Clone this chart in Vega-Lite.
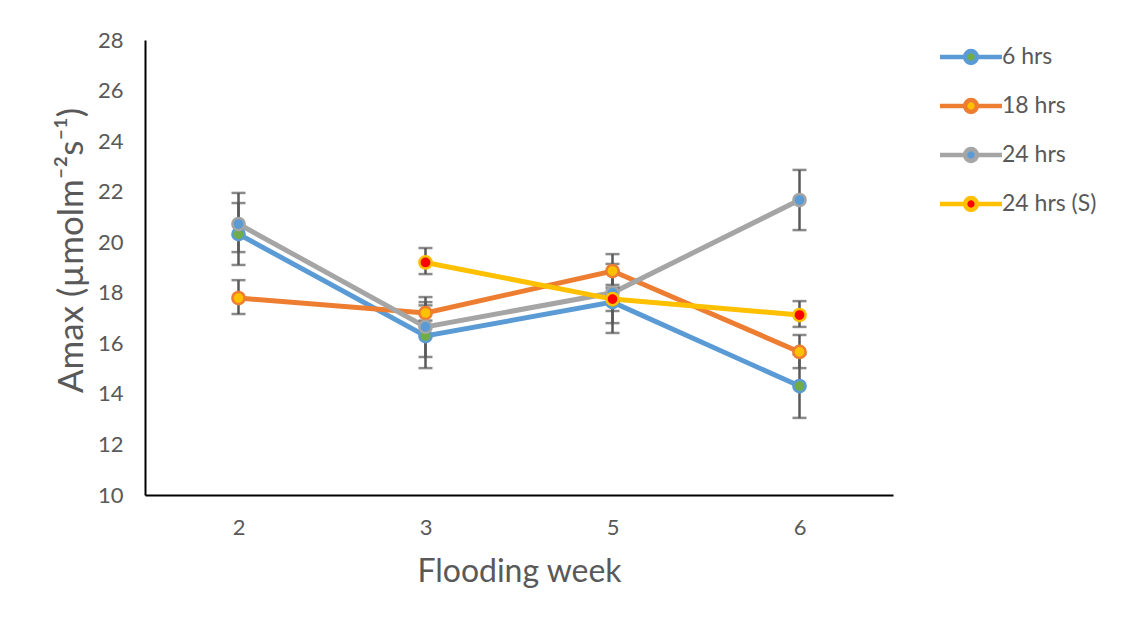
{
  "$schema": "https://vega.github.io/schema/vega-lite/v6.json",
  "autosize": "none",
  "width": 748,
  "height": 455,
  "padding": {"left": 145, "top": 40, "right": 240, "bottom": 135},
  "background": "white",
  "config": {
    "view": {"stroke": null},
    "font": "Lato",
    "axis": {"grid": false, "ticks": false, "domainColor": "#000000", "domainWidth": 2, "labelColor": "#595959", "titleColor": "#595959", "labelFont": "Lato", "titleFont": "Lato", "titleFontWeight": "normal", "labelFontSize": 22},
    "legend": {"labelFontSize": 23, "labelColor": "#595959", "labelFont": "Lato"}
  },
  "data": {
    "values": [
      {"week": "2", "series": "6 hrs", "y": 20.32, "lo": 19.10, "hi": 21.55},
      {"week": "3", "series": "6 hrs", "y": 16.29, "lo": 15.02, "hi": 17.63},
      {"week": "5", "series": "6 hrs", "y": 17.63, "lo": 16.41, "hi": 18.85},
      {"week": "6", "series": "6 hrs", "y": 14.31, "lo": 13.05, "hi": 15.57},
      {"week": "2", "series": "18 hrs", "y": 17.79, "lo": 17.16, "hi": 18.50},
      {"week": "3", "series": "18 hrs", "y": 17.20, "lo": 16.90, "hi": 17.50},
      {"week": "5", "series": "18 hrs", "y": 18.86, "lo": 18.20, "hi": 19.53},
      {"week": "6", "series": "18 hrs", "y": 15.66, "lo": 15.02, "hi": 16.33},
      {"week": "2", "series": "24 hrs", "y": 20.72, "lo": 19.61, "hi": 21.95},
      {"week": "3", "series": "24 hrs", "y": 16.65, "lo": 15.46, "hi": 17.83},
      {"week": "5", "series": "24 hrs", "y": 18.00, "lo": 16.80, "hi": 19.14},
      {"week": "6", "series": "24 hrs", "y": 21.67, "lo": 20.48, "hi": 22.86},
      {"week": "3", "series": "24 hrs (S)", "y": 19.20, "lo": 18.74, "hi": 19.77},
      {"week": "5", "series": "24 hrs (S)", "y": 17.75, "lo": 17.28, "hi": 18.31},
      {"week": "6", "series": "24 hrs (S)", "y": 17.12, "lo": 16.65, "hi": 17.67}
    ]
  },
  "encoding": {
    "x": {
      "field": "week", "type": "ordinal", "sort": ["2", "3", "5", "6"],
      "scale": {"type": "point", "padding": 0.5},
      "axis": {"title": "Flooding week", "labelAngle": 0, "labelFontSize": 22, "labelPadding": 22, "titleFontSize": 32, "titlePadding": 18}
    }
  },
  "layer": [
    {
      "mark": {"type": "line", "strokeWidth": 5},
      "encoding": {
        "y": {"field": "y", "type": "quantitative", "scale": {"domain": [10, 28], "nice": false, "zero": false},
          "axis": {"title": "Amax (µmolm⁻²s⁻¹)", "values": [10, 12, 14, 16, 18, 20, 22, 24, 26, 28], "labelFontSize": 22, "labelPadding": 22, "titleFontSize": 35, "titlePadding": 8, "titleY": 210}},
        "stroke": {"field": "series", "type": "nominal",
          "scale": {"domain": ["6 hrs", "18 hrs", "24 hrs", "24 hrs (S)"], "range": ["#5B9BD5", "#ED7D31", "#A5A5A5", "#FFC000"]},
          "legend": {
          "title": null, "orient": "none", "legendX": 799, "legendY": -10, "padding": 0,
          "symbolType": "M-1.265,0H-0.24M0.24,0H1.265M0.24,0A0.24,0.24 0 1 1 -0.24,0A0.24,0.24 0 1 1 0.24,0Z",
          "symbolSize": 2400, "symbolStrokeWidth": 4.5, "labelFontSize": 23, "labelOffset": 4, "rowPadding": 7, "symbolOpacity": 1
        }}
      }
    },
    {
      "mark": {"type": "rule", "color": "#595959", "strokeWidth": 2.5},
      "encoding": {
        "y": {"field": "lo", "type": "quantitative"},
        "y2": {"field": "hi"}
      }
    },
    {
      "mark": {"type": "tick", "color": "#595959", "thickness": 2.5, "size": 14, "orient": "horizontal"},
      "encoding": {"y": {"field": "lo", "type": "quantitative"}}
    },
    {
      "mark": {"type": "tick", "color": "#595959", "thickness": 2.5, "size": 14, "orient": "horizontal"},
      "encoding": {"y": {"field": "hi", "type": "quantitative"}}
    },
    {
      "mark": {"type": "point", "filled": true, "opacity": 1, "size": 150, "strokeWidth": 2.5, "shape": "circle"},
      "encoding": {
        "y": {"field": "y", "type": "quantitative"},
        "stroke": {"field": "series", "type": "nominal"},
        "fill": {"field": "series", "type": "nominal",
          "scale": {"domain": ["6 hrs", "18 hrs", "24 hrs", "24 hrs (S)"], "range": ["#70AD47", "#FFC000", "#5B9BD5", "#FF0000"]},
          "legend": {
          "title": null, "orient": "none", "legendX": 799, "legendY": -10, "padding": 0,
          "symbolType": "M-1.265,0H-0.24M0.24,0H1.265M0.24,0A0.24,0.24 0 1 1 -0.24,0A0.24,0.24 0 1 1 0.24,0Z",
          "symbolSize": 2400, "symbolStrokeWidth": 4.5, "labelFontSize": 23, "labelOffset": 4, "rowPadding": 7, "symbolOpacity": 1
        }}
      }
    }
  ]
}
